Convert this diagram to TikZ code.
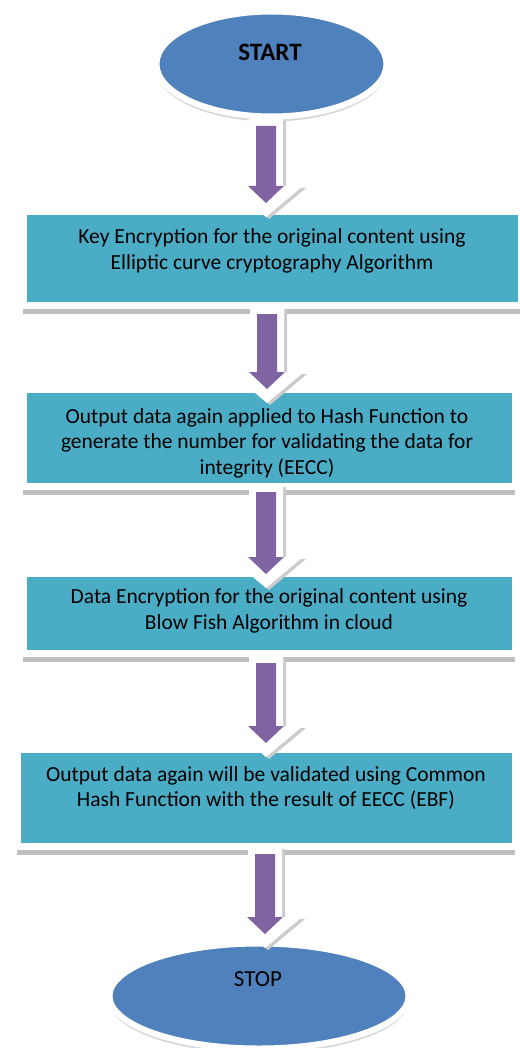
\documentclass[tikz,border=0pt]{standalone}
\usepackage{fontspec}
\setmainfont{Carlito}
\usetikzlibrary{shapes.geometric,shadows,calc}
\definecolor{boxc}{HTML}{4BACC6}
\definecolor{ellc}{HTML}{4F81BD}
\definecolor{arrc}{HTML}{8064A2}
\tikzset{
 stepbox/.style={rectangle, fill=boxc, draw=white, line width=7pt, inner sep=0pt,
   drop shadow={shadow xshift=-1pt, shadow yshift=-8pt, fill=gray!50, opacity=1}},
 termnode/.style={ellipse, fill=ellc, draw=white, line width=6pt, inner sep=0pt,
   drop shadow={shadow xshift=0pt, shadow yshift=-5pt, fill=gray!30, opacity=1}},
 boxtext/.style={align=center, font=\fontsize{21.5}{25.5}\selectfont, text=black, inner sep=0pt},
}
\newcommand\blockarr[2]{%
 \fill[gray!40] let \p1=(#1), \p2=(#2) in
   (\x1-14pt,\y1-2pt) -- (\x1+20pt,\y1-2pt) -- (\x1+20pt,\y2+29pt) -- (\x1+40pt,\y2+29pt)
   -- (\x1+3pt,\y2-2pt) -- (\x1-34pt,\y2+29pt) -- (\x1-14pt,\y2+29pt) -- cycle;
 \fill[white] let \p1=(#1), \p2=(#2) in
   (\x1-17pt,\y1) -- (\x1+17pt,\y1) -- (\x1+17pt,\y2+31pt) -- (\x1+37pt,\y2+31pt)
   -- (\x1,\y2) -- (\x1-37pt,\y2+31pt) -- (\x1-17pt,\y2+31pt) -- cycle;
 \fill[arrc] let \p1=(#1), \p2=(#2) in
   (\x1-10pt,\y1-7pt) -- (\x1+10pt,\y1-7pt) -- (\x1+10pt,\y2+31pt) -- (\x1+18pt,\y2+31pt)
   -- (\x1,\y2+14pt) -- (\x1-18pt,\y2+31pt) -- (\x1-10pt,\y2+31pt) -- cycle;
}
\begin{document}
\begin{tikzpicture}[x=1pt,y=-1pt]
\useasboundingbox (0,0) rectangle (519,1048);
\fill[white] (0,0) rectangle (519,1048);

% terminals
\node[termnode, minimum width=230pt, minimum height=105pt] (start) at (271.5,64) {};
\node[font=\bfseries\fontsize{25}{28}\selectfont, inner sep=0pt] (starttxt) at (270,52) {START};
\node[termnode, minimum width=299pt, minimum height=105pt] (stop) at (259,996) {};
\node[font=\fontsize{23}{26}\selectfont, inner sep=0pt] (stoptxt) at (258,979) {STOP};

% process boxes
\node[stepbox, minimum width=498pt, minimum height=94pt] (b1) at (272.5,258.5) {};
\node[boxtext] (t1) at (272,251) {Key Encryption for the original content using\\Elliptic curve cryptography Algorithm};

\node[stepbox, minimum width=492pt, minimum height=97pt] (b2) at (269.5,438) {};
\node[boxtext] (t2) at (267,443) {Output data again applied to Hash Function to\\generate the number for validating the data for\\integrity (EECC)};

\node[stepbox, minimum width=492pt, minimum height=80pt] (b3) at (269.5,613.5) {};
\node[boxtext] (t3) at (269,611) {Data Encryption for the original content using\\Blow Fish Algorithm in cloud};

\node[stepbox, minimum width=498pt, minimum height=97pt] (b4) at (266.5,798) {};
\node[boxtext] (t4) at (266,788) {Output data again will be validated using Common\\Hash Function with the result of EECC (EBF)};

% connector ends
\coordinate (a1s) at (266,119); \coordinate (a1e) at (266,217);
\coordinate (a2s) at (267,307); \coordinate (a2e) at (267,403);
\coordinate (a3s) at (266,485); \coordinate (a3e) at (266,588);
\coordinate (a4s) at (266,656); \coordinate (a4e) at (266,757);
\coordinate (a5s) at (265,847); \coordinate (a5e) at (265,948);

\blockarr{a1s}{a1e}
\blockarr{a2s}{a2e}
\blockarr{a3s}{a3e}
\blockarr{a4s}{a4e}
\blockarr{a5s}{a5e}
\end{tikzpicture}
\end{document}
